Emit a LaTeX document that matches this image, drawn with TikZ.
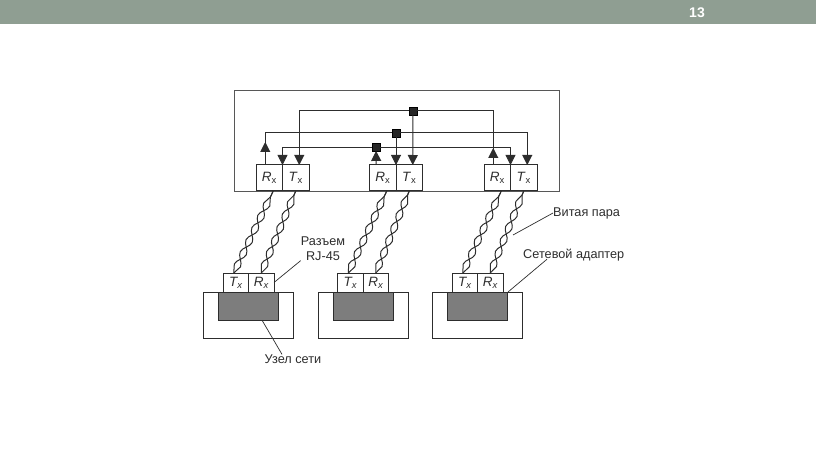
\documentclass[tikz,border=0pt]{standalone}
\usepackage{fontspec}
\setmainfont{Liberation Sans}
\usepackage{tikz}
\usetikzlibrary{arrows.meta,positioning,decorations.pathmorphing}
\definecolor{barcol}{RGB}{143,158,146}
\definecolor{inkcol}{RGB}{45,45,45}
\definecolor{greycol}{RGB}{125,125,125}
\newcommand{\Rx}{\textit{R}\textsubscript{x}}
\newcommand{\Tx}{\textit{T}\textsubscript{x}}
\newcommand{\Rlow}{\textit{R\textsubscript{x}}}
\newcommand{\Tlow}{\textit{T\textsubscript{x}}}
\tikzset{
  portbox/.style={draw=inkcol,line width=1pt,inner sep=0pt,outer sep=0pt,minimum height=26pt,font=\fontsize{13.5}{15}\selectfont,text=inkcol},
  lowbox/.style={portbox,minimum width=25.5pt,minimum height=19pt},
  wire/.style={draw=inkcol,line width=1pt},
  thinwire/.style={draw=inkcol,line width=0.8pt},
  tip/.style={-{Triangle[length=10pt,width=10pt]}},
  junction/.style={draw=black,fill=black!85,inner sep=0pt,minimum size=7.5pt},
  strand/.style={draw=inkcol,line width=1pt,decorate,decoration={snake,amplitude=3.4pt,segment length=27pt}},
  strandb/.style={draw=inkcol,line width=1pt,decorate,decoration={snake,amplitude=3.4pt,segment length=27pt,mirror}},
  leader/.style={draw=inkcol,line width=0.7pt},
  caption/.style={font=\fontsize{12.7}{15}\selectfont,text=inkcol,align=center,inner sep=0pt}
}
\begin{document}
\begin{tikzpicture}[x=1pt,y=-1pt,node distance=0pt]
    \useasboundingbox (0,0) rectangle (816,457);
    \node[fill=barcol,inner sep=0pt,minimum width=816pt,minimum height=24pt,anchor=north west] (bar) at (0,0) {};
    \node[font=\bfseries\fontsize{14}{16}\selectfont,text=white] (page) at (697,13) {13};
    \node[draw=inkcol!80,line width=1pt,inner sep=0pt,minimum width=325pt,minimum height=101pt,anchor=north west] (hub) at (234,90) {};
    % ports of the hub
    \foreach \n/\x in {a/256,b/369.5,c/484}{
      \node[portbox,minimum width=26.5pt,anchor=north west] (rx\n) at (\x,165) {\Rx};
      \node[portbox,minimum width=26.5pt,right=of rx\n] (tx\n) {\Tx};
    }
    % stations
    \foreach \n/\x in {a/223,b/337.5,c/452}{
      \node[lowbox,anchor=north west] (lt\n) at (\x,273) {\Tlow};
      \node[lowbox,right=of lt\n] (lr\n) {\Rlow};
      \node[draw=inkcol,line width=1pt,inner sep=0pt,minimum width=90pt,minimum height=46pt,anchor=north] (pc\n) at (lt\n.south east) {};
      \node[draw=inkcol,fill=greycol,line width=1pt,inner sep=0pt,minimum width=60pt,minimum height=28pt,anchor=north] (nic\n) at (lt\n.south east) {};
      \draw[strand] ([xshift=-2pt]lt\n.north) -- ([xshift=4pt]rx\n.south);
      \draw[strandb] ([xshift=-2pt]lt\n.north) -- ([xshift=4pt]rx\n.south);
      \draw[strand] (lr\n.north) -- (tx\n.south);
      \draw[strandb] (lr\n.north) -- (tx\n.south);
    }
    % buses
    \node[junction] (juna) at (413,111) {};
    \node[junction] (junb) at (396,133) {};
    \node[junction] (junc) at (376,147) {};
    \draw[wire,tip] (juna) -| ([xshift=3.5pt]txa.north);
    \draw[wire] (juna) -| ([xshift=-4pt]rxc.north);
    \draw[wire,tip] ([xshift=-4pt]rxc.north) -- ++(0,-17);
    \draw[wire,tip] (juna) -- ([xshift=3.5pt]txb.north);
    \draw[wire] (junb) -| ([xshift=-4pt]rxa.north);
    \draw[wire,tip] ([xshift=-4pt]rxa.north) -- ++(0,-23);
    \draw[wire,tip] (junb) -| ([xshift=3.5pt]txc.north);
    \draw[wire,tip] (junb) -- (txb.north west);
    \draw[thinwire,tip] (junc) -| (txa.north west);
    \draw[thinwire,tip] (junc) -| (txc.north west);
    \draw[wire,tip] ([xshift=-6.5pt]rxb.north) -- (junc);
    % labels
    \node[caption] (rj) at (323,248.5) {Разъем\\RJ-45};
    \node[caption] (host) at (293,359) {Узел сети};
    \node[caption,anchor=west] (pair) at (553,213) {Витая пара};
    \node[caption,anchor=west] (adapter) at (523,255) {Сетевой адаптер};
    \coordinate (pairend) at (513,235);
    \draw[leader] (rj.south west) -- (lra.east);
    \draw[leader] ([xshift=-11pt]host.north) -- ([xshift=14pt]nica.south);
    \draw[leader] (pair.west) -- (pairend);
    \draw[leader] ([xshift=24pt,yshift=2pt]adapter.south west) -- (nicc.north east);
\end{tikzpicture}
\end{document}
